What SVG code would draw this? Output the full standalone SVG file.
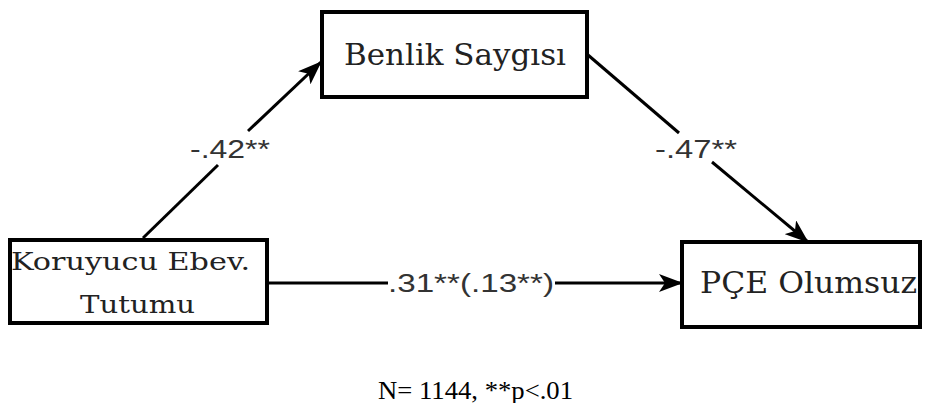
<svg xmlns="http://www.w3.org/2000/svg" width="928" height="403" viewBox="0 0 928 403">
<defs>
<style>
.box{fill:#fff;stroke:#000;stroke-width:4}
.ln{stroke:#000;stroke-width:3;fill:none}
.nt{font-family:"DejaVu Serif","Liberation Serif",serif;fill:#222}
.lb{font-family:"Liberation Sans",Arial,sans-serif;font-size:25px;fill:#333}
</style>
<marker id="ah" viewBox="0 0 24 18" refX="23" refY="9" markerWidth="24" markerHeight="18" markerUnits="userSpaceOnUse" orient="auto">
<path d="M0,0 L24,9 L0,18 L6,9 Z" fill="#000"/>
</marker>
</defs>
<rect width="928" height="403" fill="#fff"/>
<g id="connectors">
<line class="ln" x1="143" y1="238" x2="218" y2="165"/>
<line class="ln" x1="248" y1="131" x2="321" y2="62" marker-end="url(#ah)"/>
<line class="ln" x1="588" y1="55" x2="679" y2="133"/>
<line class="ln" x1="712" y1="162" x2="808" y2="242" marker-end="url(#ah)"/>
<line class="ln" x1="267" y1="283" x2="388" y2="283"/>
<line class="ln" x1="555" y1="283" x2="682" y2="283" marker-end="url(#ah)"/>
<text class="lb" x="190" y="158" textLength="80" lengthAdjust="spacingAndGlyphs">-.42**</text>
<text class="lb" x="655" y="158" textLength="82" lengthAdjust="spacingAndGlyphs">-.47**</text>
<text class="lb" x="388" y="292" textLength="166" lengthAdjust="spacingAndGlyphs">.31**(.13**)</text>
</g>
<g id="benlik">
<rect class="box" x="322" y="12" width="265" height="85"/>
<text class="nt" x="344" y="65" font-size="29" textLength="222" lengthAdjust="spacingAndGlyphs">Benlik Saygısı</text>
</g>
<g id="koruyucu">
<rect class="box" x="10" y="240" width="257" height="83"/>
<text class="nt" x="11" y="270" font-size="24" textLength="239" lengthAdjust="spacingAndGlyphs">Koruyucu Ebev.</text>
<text class="nt" x="80" y="313" font-size="24" textLength="115" lengthAdjust="spacingAndGlyphs">Tutumu</text>
</g>
<g id="pce">
<rect class="box" x="682" y="242" width="238" height="85"/>
<text class="nt" x="700" y="293" font-size="29" textLength="217" lengthAdjust="spacingAndGlyphs">PÇE Olumsuz</text>
</g>
<text x="378" y="399" font-family="'Liberation Serif','DejaVu Serif',serif" font-size="25" fill="#000" textLength="195" lengthAdjust="spacingAndGlyphs">N= 1144, **p&lt;.01</text>
</svg>
